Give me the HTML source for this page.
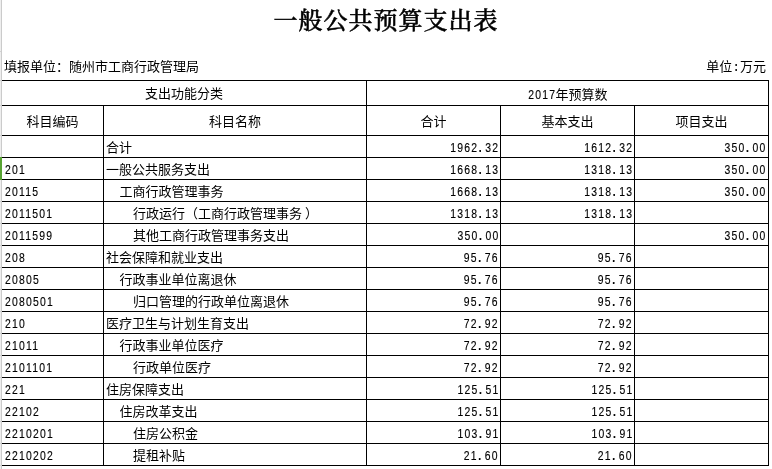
<!DOCTYPE html>
<html lang="zh-CN">
<head>
<meta charset="utf-8">
<title>一般公共预算支出表</title>
<style>
html,body{margin:0;padding:0;background:#fff;}
body{width:772px;height:469px;overflow:hidden;position:relative;
  font-family:"Liberation Mono","Noto Sans CJK SC",monospace;font-size:13px;color:#000;}
.gl0{position:absolute;left:0;top:0;width:1px;height:469px;background:#eeeeee;}
.gl1{position:absolute;left:1px;top:0;width:1px;height:469px;background:#cbcbcb;}
.tk{position:absolute;left:0;width:1px;height:1px;background:#d2d2d2;}
.sel{position:absolute;left:0;top:157px;width:2px;height:23px;background:#58a332;}
.h{position:absolute;height:1px;background:#000;}
.v{position:absolute;width:1px;background:#000;}
.t{position:absolute;white-space:nowrap;line-height:22px;height:22px;}
.title{position:absolute;left:0;width:772px;top:5px;text-align:center;
  font-family:"Liberation Serif","Noto Serif CJK SC",serif;font-size:24px;font-weight:500;-webkit-text-stroke:0.5px #000;line-height:32px;letter-spacing:1px;}
.n{font-family:"Liberation Sans","Noto Sans CJK SC",sans-serif;letter-spacing:1.52px;transform:scaleX(0.8);-webkit-text-stroke:0.15px #000;}
.nr{transform-origin:right center;}
.nl{transform-origin:left center;}
.d{display:inline-block;width:8.75px;padding-left:0.5px;box-sizing:border-box;font-weight:700;}
.c{text-align:center;}
.r{text-align:right;}
</style>
</head>
<body>
<div class="gl0"></div><div class="gl1"></div><div class="tk" style="top:51px"></div><div class="tk" style="top:80px"></div><div class="tk" style="top:105px"></div><div class="tk" style="top:135px"></div><div class="tk" style="top:157px"></div><div class="tk" style="top:179px"></div><div class="tk" style="top:201px"></div><div class="tk" style="top:223px"></div><div class="tk" style="top:245px"></div><div class="tk" style="top:267px"></div><div class="tk" style="top:289px"></div><div class="tk" style="top:311px"></div><div class="tk" style="top:333px"></div><div class="tk" style="top:355px"></div><div class="tk" style="top:377px"></div><div class="tk" style="top:399px"></div><div class="tk" style="top:421px"></div><div class="tk" style="top:443px"></div><div class="tk" style="top:465px"></div><div class="sel"></div>
<div class="title">一般公共预算支出表</div>
<div class="t" style="left:4px;top:56.5px;">填报单位：随州市工商行政管理局</div>
<div class="t r" style="right:6px;top:56.5px;">单位:万元</div>

<!-- horizontal lines -->
<div class="h" style="left:2px;width:767px;top:80px"></div>
<div class="h" style="left:2px;width:767px;top:105px"></div>
<div class="h" style="left:2px;width:767px;top:135px"></div>
<div class="h" style="left:2px;width:767px;top:157px"></div>
<div class="h" style="left:2px;width:767px;top:179px"></div>
<div class="h" style="left:2px;width:767px;top:201px"></div>
<div class="h" style="left:2px;width:767px;top:223px"></div>
<div class="h" style="left:2px;width:767px;top:245px"></div>
<div class="h" style="left:2px;width:767px;top:267px"></div>
<div class="h" style="left:2px;width:767px;top:289px"></div>
<div class="h" style="left:2px;width:767px;top:311px"></div>
<div class="h" style="left:2px;width:767px;top:333px"></div>
<div class="h" style="left:2px;width:767px;top:355px"></div>
<div class="h" style="left:2px;width:767px;top:377px"></div>
<div class="h" style="left:2px;width:767px;top:399px"></div>
<div class="h" style="left:2px;width:767px;top:421px"></div>
<div class="h" style="left:2px;width:767px;top:443px"></div>
<div class="h" style="left:2px;width:767px;top:465px"></div>
<!-- vertical lines -->
<div class="v" style="left:103px;top:105px;height:361px"></div>
<div class="v" style="left:366px;top:80px;height:386px"></div>
<div class="v" style="left:500px;top:105px;height:361px"></div>
<div class="v" style="left:634px;top:105px;height:361px"></div>
<div class="v" style="left:768px;top:80px;height:386px"></div>

<!-- header -->
<div class="t c" style="left:2px;width:364px;top:83px;line-height:24px">支出功能分类</div>
<div class="t c" style="left:367px;width:401px;top:83px;line-height:24px"><span class="n nl" style="display:inline-block;width:26.5px;padding-left:1.5px">2017</span>年预算数</div>
<div class="t c" style="left:2px;width:101px;top:107.5px;line-height:29px">科目编码</div>
<div class="t c" style="left:104px;width:262px;top:107.5px;line-height:29px">科目名称</div>
<div class="t c" style="left:367px;width:133px;top:107.5px;line-height:29px">合计</div>
<div class="t c" style="left:501px;width:133px;top:107.5px;line-height:29px">基本支出</div>
<div class="t c" style="left:635px;width:133px;top:107.5px;line-height:29px">项目支出</div>

<div id="rows">
<div class="t" style="left:106.0px;top:138px">合计</div>
<div class="t n nr" style="right:273px;top:137px">1962<span class="d">.</span>32</div>
<div class="t n nr" style="right:139px;top:137px">1612<span class="d">.</span>32</div>
<div class="t n nr" style="right:6px;top:137px">350<span class="d">.</span>00</div>
<div class="t n nl" style="left:5px;top:159px">201</div>
<div class="t" style="left:106.0px;top:160px">一般公共服务支出</div>
<div class="t n nr" style="right:273px;top:159px">1668<span class="d">.</span>13</div>
<div class="t n nr" style="right:139px;top:159px">1318<span class="d">.</span>13</div>
<div class="t n nr" style="right:6px;top:159px">350<span class="d">.</span>00</div>
<div class="t n nl" style="left:5px;top:181px">20115</div>
<div class="t" style="left:119.5px;top:182px">工商行政管理事务</div>
<div class="t n nr" style="right:273px;top:181px">1668<span class="d">.</span>13</div>
<div class="t n nr" style="right:139px;top:181px">1318<span class="d">.</span>13</div>
<div class="t n nr" style="right:6px;top:181px">350<span class="d">.</span>00</div>
<div class="t n nl" style="left:5px;top:203px">2011501</div>
<div class="t" style="left:133.0px;top:204px">行政运行（工商行政管理事务<span style="position:relative;left:3px">）</span></div>
<div class="t n nr" style="right:273px;top:203px">1318<span class="d">.</span>13</div>
<div class="t n nr" style="right:139px;top:203px">1318<span class="d">.</span>13</div>
<div class="t n nl" style="left:5px;top:225px">2011599</div>
<div class="t" style="left:133.0px;top:226px">其他工商行政管理事务支出</div>
<div class="t n nr" style="right:273px;top:225px">350<span class="d">.</span>00</div>
<div class="t n nr" style="right:6px;top:225px">350<span class="d">.</span>00</div>
<div class="t n nl" style="left:5px;top:247px">208</div>
<div class="t" style="left:106.0px;top:248px">社会保障和就业支出</div>
<div class="t n nr" style="right:273px;top:247px">95<span class="d">.</span>76</div>
<div class="t n nr" style="right:139px;top:247px">95<span class="d">.</span>76</div>
<div class="t n nl" style="left:5px;top:269px">20805</div>
<div class="t" style="left:119.5px;top:270px">行政事业单位离退休</div>
<div class="t n nr" style="right:273px;top:269px">95<span class="d">.</span>76</div>
<div class="t n nr" style="right:139px;top:269px">95<span class="d">.</span>76</div>
<div class="t n nl" style="left:5px;top:291px">2080501</div>
<div class="t" style="left:133.0px;top:292px">归口管理的行政单位离退休</div>
<div class="t n nr" style="right:273px;top:291px">95<span class="d">.</span>76</div>
<div class="t n nr" style="right:139px;top:291px">95<span class="d">.</span>76</div>
<div class="t n nl" style="left:5px;top:313px">210</div>
<div class="t" style="left:106.0px;top:314px">医疗卫生与计划生育支出</div>
<div class="t n nr" style="right:273px;top:313px">72<span class="d">.</span>92</div>
<div class="t n nr" style="right:139px;top:313px">72<span class="d">.</span>92</div>
<div class="t n nl" style="left:5px;top:335px">21011</div>
<div class="t" style="left:119.5px;top:336px">行政事业单位医疗</div>
<div class="t n nr" style="right:273px;top:335px">72<span class="d">.</span>92</div>
<div class="t n nr" style="right:139px;top:335px">72<span class="d">.</span>92</div>
<div class="t n nl" style="left:5px;top:357px">2101101</div>
<div class="t" style="left:133.0px;top:358px">行政单位医疗</div>
<div class="t n nr" style="right:273px;top:357px">72<span class="d">.</span>92</div>
<div class="t n nr" style="right:139px;top:357px">72<span class="d">.</span>92</div>
<div class="t n nl" style="left:5px;top:379px">221</div>
<div class="t" style="left:106.0px;top:380px">住房保障支出</div>
<div class="t n nr" style="right:273px;top:379px">125<span class="d">.</span>51</div>
<div class="t n nr" style="right:139px;top:379px">125<span class="d">.</span>51</div>
<div class="t n nl" style="left:5px;top:401px">22102</div>
<div class="t" style="left:119.5px;top:402px">住房改革支出</div>
<div class="t n nr" style="right:273px;top:401px">125<span class="d">.</span>51</div>
<div class="t n nr" style="right:139px;top:401px">125<span class="d">.</span>51</div>
<div class="t n nl" style="left:5px;top:423px">2210201</div>
<div class="t" style="left:133.0px;top:424px">住房公积金</div>
<div class="t n nr" style="right:273px;top:423px">103<span class="d">.</span>91</div>
<div class="t n nr" style="right:139px;top:423px">103<span class="d">.</span>91</div>
<div class="t n nl" style="left:5px;top:445px">2210202</div>
<div class="t" style="left:133.0px;top:446px">提租补贴</div>
<div class="t n nr" style="right:273px;top:445px">21<span class="d">.</span>60</div>
<div class="t n nr" style="right:139px;top:445px">21<span class="d">.</span>60</div>
</div>
</body>
</html>
